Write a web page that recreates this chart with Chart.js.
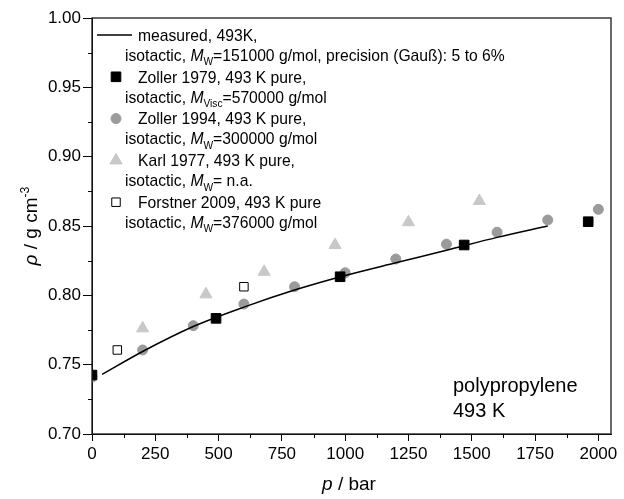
<!DOCTYPE html>
<html lang="en">
<head>
  <meta charset="UTF-8">
  <title>Polypropylene density at 493 K</title>
  <script src="https://cdn.jsdelivr.net/npm/chart.js"></script>
  <style>
    html, body { margin: 0; padding: 0; background: #fff; }
    #wrap { width: 624px; height: 499px; }
  </style>
</head>
<body>
  <div id="wrap"><canvas id="rhoChart" width="624" height="499"></canvas></div>

  <script>
    // pressure p in bar, density rho in g/cm3
    const measuredP   = [40, 200, 400, 600, 800, 1000, 1200, 1400, 1600, 1800];
    const measuredRho = [0.743, 0.7595, 0.7775, 0.7915, 0.8038, 0.8143, 0.8235, 0.8325, 0.8418, 0.850];

    const zoller79P   = [0, 490, 980, 1470, 1960];
    const zoller79Rho = [0.7425, 0.7834, 0.8134, 0.8363, 0.8531];

    const zoller94P   = [0, 200, 400, 600, 800, 1000, 1200, 1400, 1600, 1800, 2000];
    const zoller94Rho = [0.741, 0.7606, 0.7781, 0.7937, 0.8062, 0.8163, 0.8262, 0.8369, 0.8455, 0.8543, 0.862];

    const karlP   = [200, 450, 680, 960, 1250, 1530];
    const karlRho = [0.7762, 0.8007, 0.8170, 0.8363, 0.8527, 0.868];

    const forstnerP   = [100, 600];
    const forstnerRho = [0.7606, 0.8062];

    const xTicks = [0, 250, 500, 750, 1000, 1250, 1500, 1750, 2000];
    const xMinor = [125, 375, 625, 875, 1125, 1375, 1625, 1875];
    const yTicks = [0.70, 0.75, 0.80, 0.85, 0.90, 0.95, 1.00];
    const yMinor = [0.725, 0.775, 0.825, 0.875, 0.925, 0.975];

    // legend text, [text, style]: n = normal, i = italic, sub = subscript
    const legendRows = [
      [[['measured, 493K,', 'n']],
       [['isotactic, ', 'n'], ['M', 'i'], ['W', 'sub'], ['=151000 g/mol, precision (Gauß): 5 to 6%', 'n']]],
      [[['Zoller 1979, 493 K pure,', 'n']],
       [['isotactic, ', 'n'], ['M', 'i'], ['Visc', 'sub'], ['=570000 g/mol', 'n']]],
      [[['Zoller 1994, 493 K pure,', 'n']],
       [['isotactic, ', 'n'], ['M', 'i'], ['W', 'sub'], ['=300000 g/mol', 'n']]],
      [[['Karl 1977, 493 K pure,', 'n']],
       [['isotactic, ', 'n'], ['M', 'i'], ['W', 'sub'], ['= n.a.', 'n']]],
      [[['Forstner 2009, 493 K pure', 'n']],
       [['isotactic, ', 'n'], ['M', 'i'], ['W', 'sub'], ['=376000 g/mol', 'n']]]
    ];
    const annotation = ['polypropylene', '493 K'];

    const FONT = '"Liberation Sans", Arial, sans-serif';
    const pts = (xs, ys) => xs.map((x, i) => ({ x: x, y: ys[i] }));

    function richText(ctx, parts, x, y, size) {
      parts.forEach(([t, s]) => {
        let fs = size, dy = 0, st = '';
        if (s === 'i') st = 'italic ';
        if (s === 'sub') { fs = size * 0.65; dy = size * 0.28; }
        if (s === 'sup') { fs = size * 0.65; dy = -size * 0.42; }
        ctx.font = st + fs + 'px ' + FONT;
        ctx.fillText(t, x, y + dy);
        x += ctx.measureText(t).width;
      });
      return x;
    }
    function richWidth(ctx, parts, size) {
      let w = 0;
      parts.forEach(([t, s]) => {
        let fs = (s === 'sub' || s === 'sup') ? size * 0.65 : size;
        ctx.font = (s === 'i' ? 'italic ' : '') + fs + 'px ' + FONT;
        w += ctx.measureText(t).width;
      });
      return w;
    }

    const decorations = {
      id: 'decorations',
      afterDraw(chart) {
        const ctx = chart.ctx;
        const a = chart.chartArea;
        const xs = chart.scales.x, ys = chart.scales.y;
        ctx.save();

        // frame
        ctx.strokeStyle = '#1a1a1a';
        ctx.lineWidth = 1.3;
        ctx.strokeRect(a.left, a.top, a.right - a.left, a.bottom - a.top);

        // minor ticks
        ctx.lineWidth = 1;
        ctx.strokeStyle = '#000';
        ctx.beginPath();
        xMinor.forEach(v => {
          const px = Math.round(xs.getPixelForValue(v)) + 0.5;
          ctx.moveTo(px, a.bottom); ctx.lineTo(px, a.bottom + 4);
        });
        yMinor.forEach(v => {
          const py = Math.round(ys.getPixelForValue(v)) + 0.5;
          ctx.moveTo(a.left, py); ctx.lineTo(a.left - 4, py);
        });
        ctx.stroke();

        // legend
        ctx.fillStyle = '#000';
        ctx.textBaseline = 'alphabetic';
        ctx.textAlign = 'left';
        const size = 15.7;
        legendRows.forEach((row, i) => {
          const cy = 35 + i * 41.8;
          const ds = chart.data.datasets[i];
          if (ds.pointRadius === 0) {
            ctx.strokeStyle = ds.borderColor;
            ctx.lineWidth = 1.5;
            ctx.beginPath();
            ctx.moveTo(97, cy); ctx.lineTo(132, cy);
            ctx.stroke();
          } else {
            ctx.fillStyle = ds.backgroundColor;
            ctx.strokeStyle = ds.borderColor;
            ctx.lineWidth = ds.borderWidth;
            Chart.helpers.drawPoint(ctx, {
              pointStyle: ds.pointStyle, rotation: 0,
              radius: ds.pointRadius, borderWidth: ds.borderWidth
            }, 116, cy);
          }
          ctx.fillStyle = '#000';
          richText(ctx, row[0], 138, cy + 5.8, size);
          richText(ctx, row[1], 125, cy + 20 + 5.8, size);
        });

        // annotation
        ctx.font = '20px ' + FONT;
        ctx.fillText(annotation[0], 453, 392);
        ctx.fillText(annotation[1], 453, 417);

        // axis titles
        const xt = [['p', 'i'], [' / bar', 'n']];
        const xw = richWidth(ctx, xt, 19);
        richText(ctx, xt, 349 - xw / 2, 490, 19);

        const yt = [['ρ', 'i'], [' / g cm', 'n'], ['-3', 'sup']];
        const yw = richWidth(ctx, yt, 19);
        ctx.translate(37, 226);
        ctx.rotate(-Math.PI / 2);
        richText(ctx, yt, -yw / 2, 0, 19);

        ctx.restore();
      }
    };

    const ctx = document.getElementById('rhoChart').getContext('2d');
    const rhoChart = new Chart(ctx, {
      type: 'scatter',
      data: {
        datasets: [
          {
            label: 'measured, 493K',
            type: 'line',
            data: pts(measuredP, measuredRho),
            borderColor: '#000000',
            backgroundColor: '#000000',
            borderWidth: 1.5,
            pointRadius: 0,
            tension: 0.4,
            cubicInterpolationMode: 'monotone',
            fill: false,
            order: 1,
            clip: 0
          },
          {
            label: 'Zoller 1979',
            data: pts(zoller79P, zoller79Rho),
            pointStyle: 'rect',
            pointRadius: 6.8,
            backgroundColor: '#000000',
            borderColor: '#000000',
            borderWidth: 1,
            order: 0,
            clip: 0
          },
          {
            label: 'Zoller 1994',
            data: pts(zoller94P, zoller94Rho),
            pointStyle: 'circle',
            pointRadius: 5,
            backgroundColor: '#9b9b9b',
            borderColor: '#9b9b9b',
            borderWidth: 1,
            order: 2,
            clip: 0
          },
          {
            label: 'Karl 1977',
            data: pts(karlP, karlRho),
            pointStyle: 'triangle',
            pointRadius: 7,
            backgroundColor: '#c8c8c8',
            borderColor: '#c8c8c8',
            borderWidth: 1,
            order: 3,
            clip: 0
          },
          {
            label: 'Forstner 2009',
            data: pts(forstnerP, forstnerRho),
            pointStyle: 'rect',
            pointRadius: 6,
            backgroundColor: '#ffffff',
            borderColor: '#000000',
            borderWidth: 1,
            order: 4,
            clip: 0
          }
        ]
      },
      options: {
        responsive: false,
        devicePixelRatio: 1,
        animation: false,
        layout: { padding: { top: 18, right: 13, left: 0, bottom: 0 } },
        plugins: {
          legend: { display: false },
          tooltip: { enabled: false }
        },
        scales: {
          x: {
            type: 'linear',
            min: 0,
            max: 2050,
            afterBuildTicks: s => { s.ticks = xTicks.map(v => ({ value: v })); },
            afterFit: s => { s.height = 65; },
            ticks: {
              color: '#000',
              font: { family: FONT, size: 17 },
              padding: 3,
              maxRotation: 0,
              callback: v => String(v)
            },
            grid: { drawOnChartArea: false, drawTicks: true, tickLength: 7, color: '#000' },
            border: { color: '#000', width: 1 },
            title: { display: false }
          },
          y: {
            type: 'linear',
            min: 0.70,
            max: 1.00,
            afterBuildTicks: s => { s.ticks = yTicks.map(v => ({ value: v })); },
            afterFit: s => { s.width = 92; },
            ticks: {
              color: '#000',
              font: { family: FONT, size: 17 },
              padding: 2,
              callback: v => v.toFixed(2)
            },
            grid: { drawOnChartArea: false, drawTicks: true, tickLength: 9, color: '#000' },
            border: { color: '#000', width: 1 },
            title: { display: false }
          }
        }
      },
      plugins: [decorations]
    });
  </script>
</body>
</html>
